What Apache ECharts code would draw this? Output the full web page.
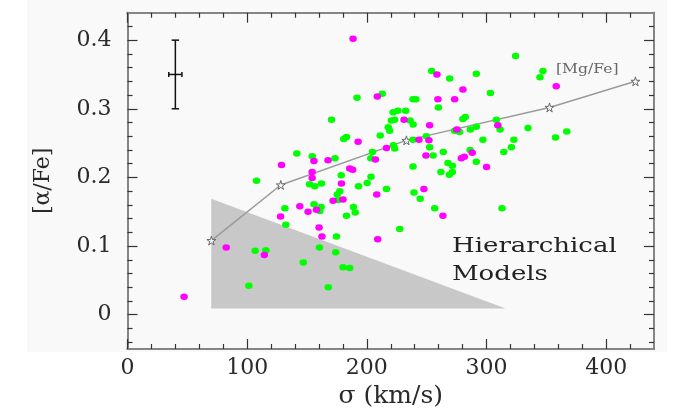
<!DOCTYPE html>
<html>
<head>
<meta charset="utf-8">
<script src="https://cdn.jsdelivr.net/npm/echarts@6/dist/echarts.min.js"></script>
<style>
html, body { margin: 0; background: #fff; }
#main { width: 692px; height: 415px; }
</style>
</head>
<body>
<div id="main"></div>
<script>
// 坐标轴刻度
const xTicks = [0, 100, 200, 300, 400]
const xMinor = [20, 40, 60, 80, 120, 140, 160, 180, 220, 240, 260, 280, 320, 340, 360, 380, 420]
const yTicks = [0, 0.1, 0.2, 0.3, 0.4]
const yMinor = [-0.04, -0.02, 0.02, 0.04, 0.06, 0.08, 0.12, 0.14, 0.16, 0.18, 0.22, 0.24, 0.26, 0.28, 0.32, 0.34, 0.36, 0.38, 0.42]

// 绿色星系 (sigma, [alpha/Fe])
const greenPts = [
    [324.3, 0.377], [254.2, 0.355], [269.2, 0.344], [291.5, 0.351], [347.2, 0.355], [344.7, 0.346],
    [303.3, 0.323], [212.9, 0.322], [191.8, 0.316], [238.6, 0.314], [241.0, 0.314], [259.8, 0.302],
    [222.0, 0.295], [226.0, 0.297], [232.5, 0.297], [170.5, 0.284], [220.5, 0.283], [223.3, 0.284],
    [236.2, 0.283], [238.7, 0.277], [280.3, 0.285], [282.3, 0.288], [308.2, 0.284], [217.9, 0.273],
    [219.1, 0.268], [311.4, 0.270], [273.4, 0.268], [277.5, 0.266], [286.5, 0.270], [291.5, 0.274],
    [334.7, 0.272], [211.2, 0.261], [180.7, 0.256], [183.0, 0.259], [238.6, 0.255], [249.7, 0.260],
    [297.0, 0.255], [322.9, 0.255], [320.8, 0.244], [357.7, 0.258], [367.1, 0.267], [222.2, 0.247],
    [223.3, 0.242], [252.5, 0.244], [204.7, 0.237], [203.3, 0.228], [255.4, 0.232], [263.9, 0.237],
    [314.5, 0.237], [286.3, 0.240], [291.5, 0.223], [267.8, 0.221], [271.5, 0.217], [141.5, 0.235],
    [154.4, 0.231], [173.4, 0.228], [238.6, 0.216], [261.9, 0.208], [268.9, 0.204], [271.5, 0.208],
    [178.6, 0.203], [107.8, 0.195], [152.1, 0.190], [156.5, 0.187], [162.1, 0.191], [203.5, 0.201],
    [200.3, 0.192], [193.1, 0.187], [216.4, 0.183], [239.4, 0.178], [244.6, 0.169], [177.4, 0.180],
    [175.3, 0.175], [176.0, 0.167], [256.7, 0.155], [313.0, 0.155], [131.5, 0.155], [132.3, 0.131],
    [155.9, 0.161], [161.8, 0.157], [160.7, 0.151], [188.8, 0.157], [190.3, 0.149], [183.0, 0.144],
    [227.5, 0.125], [174.6, 0.114], [106.7, 0.093], [115.6, 0.094], [160.4, 0.098], [174.0, 0.091],
    [146.9, 0.076], [180.1, 0.069], [185.7, 0.068], [101.4, 0.042], [167.8, 0.040]
]

// 品红色星系
const magentaPts = [
    [188.5, 0.402], [208.8, 0.318], [358.3, 0.333], [258.6, 0.350], [280.3, 0.328], [259.4, 0.314],
    [273.4, 0.314], [231.1, 0.284], [252.5, 0.276], [309.5, 0.276], [275.3, 0.270], [192.7, 0.252],
    [243.6, 0.255], [251.9, 0.254], [216.4, 0.243], [207.2, 0.226], [249.4, 0.232], [288.1, 0.236],
    [281.5, 0.230], [279.0, 0.228], [128.7, 0.218], [155.8, 0.224], [167.6, 0.225], [185.7, 0.213],
    [188.2, 0.211], [300.1, 0.215], [154.3, 0.208], [154.3, 0.199], [178.8, 0.191], [208.3, 0.175],
    [247.7, 0.183], [171.8, 0.166], [180.1, 0.168], [144.0, 0.158], [150.9, 0.150], [157.9, 0.153],
    [127.9, 0.143], [263.6, 0.144], [160.1, 0.127], [162.5, 0.114], [209.1, 0.110], [82.5, 0.098],
    [114.4, 0.087], [47.3, 0.026]
]

// [Mg/Fe] 模型曲线
const mgFe = [[70.1, 0.108], [128.1, 0.189], [233.1, 0.254], [352.7, 0.302], [424.5, 0.340]]

// Hierarchical Models 区域三角形
const hierTri = [[70, 0.169], [70, 0.009], [316, 0.009]]

// 典型误差 [x, y, dx, dy]
const errBar = [40, 0.35, 5.5, 0.05]

const serif = '"DejaVu Serif", "Liberation Serif", serif'
const starPath = 'path://M50,0 L61,35 L98,35 L68,57 L79,91 L50,70 L21,91 L32,57 L2,35 L39,35 Z'

const frameAxis = (extra) => Object.assign({
    type: 'value',
    splitLine: { show: false },
    axisLine: { show: true, onZero: false, lineStyle: { color: '#858585', width: 2 } },
    axisLabel: { show: false },
}, extra)

const majorTick = (vals) => ({ show: true, inside: true, length: 10, customValues: vals, lineStyle: { color: '#333', width: 1.2 } })
const minorTickOf = (vals) => ({ show: true, inside: true, length: 5, customValues: vals, lineStyle: { color: '#333', width: 1.2 } })

const chart = echarts.init(document.getElementById('main'))
chart.setOption({
    backgroundColor: '#fff',
    animation: false,
    grid: { left: 127.5, right: 38, top: 12.7, bottom: 66 },
    graphic: [
        { type: 'rect', z: -10, shape: { x: 27, y: 0, width: 640, height: 352 }, style: { fill: '#f9f9f9' } },
        {
            type: 'text', x: 452, y: 233, scaleX: 1.3, z: 5,
            style: { text: 'Hierarchical\nModels', font: '20px ' + serif, fill: '#222', lineHeight: 28, textAlign: 'left', textVerticalAlign: 'top' }
        },
        {
            type: 'text', x: 556, y: 63, scaleX: 1.2, z: 5,
            style: { text: '[Mg/Fe]', font: '13px ' + serif, fill: '#666', textAlign: 'left', textVerticalAlign: 'top' }
        }
    ],
    xAxis: [
        frameAxis({
            min: 0, max: 440, position: 'bottom',
            axisTick: majorTick(xTicks),
            axisLabel: { show: true, customValues: xTicks, fontFamily: serif, fontSize: 22, color: '#2a2a2a', margin: 8 },
            name: 'σ (km/s)', nameLocation: 'middle', nameGap: 32,
            nameTextStyle: { fontFamily: serif, fontSize: 25, color: '#2a2a2a' }
        }),
        frameAxis({ min: 0, max: 440, position: 'bottom', axisTick: minorTickOf(xMinor) }),
        frameAxis({ min: 0, max: 440, position: 'top', axisTick: majorTick(xTicks) }),
        frameAxis({ min: 0, max: 440, position: 'top', axisTick: minorTickOf(xMinor) })
    ],
    yAxis: [
        frameAxis({
            min: -0.05, max: 0.44, position: 'left',
            axisTick: majorTick(yTicks),
            axisLabel: { show: true, customValues: yTicks, fontFamily: serif, fontSize: 22, color: '#2a2a2a', margin: 16 },
            name: '[α/Fe]', nameLocation: 'middle', nameGap: 73, nameRotate: 90,
            nameTextStyle: { fontFamily: serif, fontSize: 22, color: '#2a2a2a' }
        }),
        frameAxis({ min: -0.05, max: 0.44, position: 'left', axisTick: minorTickOf(yMinor) }),
        frameAxis({ min: -0.05, max: 0.44, position: 'right', axisTick: majorTick(yTicks) }),
        frameAxis({ min: -0.05, max: 0.44, position: 'right', axisTick: minorTickOf(yMinor) })
    ],
    series: [
        {
            type: 'custom', silent: true, z: 1,
            data: [hierTri[0]],
            renderItem: (params, api) => ({
                type: 'polygon',
                shape: { points: hierTri.map(p => api.coord(p)) },
                style: { fill: '#c8c8c8' }
            })
        },
        {
            type: 'line', z: 2, silent: true,
            data: mgFe,
            symbol: starPath, symbolSize: 9,
            lineStyle: { color: '#9a9a9a', width: 1.5 },
            itemStyle: { color: '#f4f4f4', borderColor: '#6a6a6a', borderWidth: 1 }
        },
        {
            type: 'scatter', z: 3, silent: true,
            data: greenPts, symbol: 'circle', symbolSize: [7.5, 6.5],
            itemStyle: { color: '#00ff00', opacity: 1 }
        },
        {
            type: 'scatter', z: 3, silent: true,
            data: magentaPts, symbol: 'circle', symbolSize: [7.5, 6.5],
            itemStyle: { color: '#ff00ff', opacity: 1 }
        },
        {
            type: 'custom', silent: true, z: 4,
            data: [errBar],
            renderItem: (params, api) => {
                const x = api.value(0), y = api.value(1), dx = api.value(2), dy = api.value(3)
                const top = api.coord([x, y + dy]), bot = api.coord([x, y - dy])
                const l = api.coord([x - dx, y]), r = api.coord([x + dx, y])
                const st = { stroke: '#111', lineWidth: 1.5 }
                const seg = (x1, y1, x2, y2) => ({ type: 'line', shape: { x1, y1, x2, y2 }, style: st })
                return {
                    type: 'group',
                    children: [
                        seg(top[0], top[1], bot[0], bot[1]),
                        seg(top[0] - 3.7, top[1], top[0] + 3.7, top[1]),
                        seg(bot[0] - 3.7, bot[1], bot[0] + 3.7, bot[1]),
                        seg(l[0], l[1], r[0], r[1]),
                        seg(l[0], l[1] - 2.5, l[0], l[1] + 2.5),
                        seg(r[0], r[1] - 2.5, r[0], r[1] + 2.5)
                    ]
                }
            }
        }
    ]
})
</script>
</body>
</html>
